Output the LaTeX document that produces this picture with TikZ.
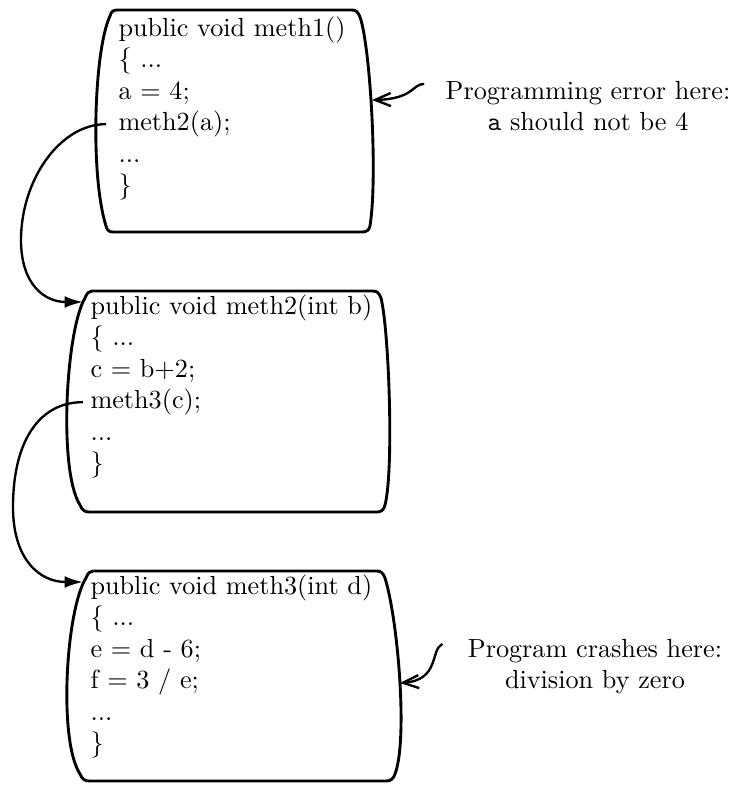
\documentclass[tikz,border=0pt]{standalone}
\usetikzlibrary{arrows.meta,calc}
\begin{document}
\begin{tikzpicture}[x=0.3817pt,y=-0.3817pt,
  boxline/.style={line width=1.1pt, line join=round},
  codeline/.style={anchor=base west, inner sep=0pt},
  note/.style={anchor=base, inner sep=0pt},
  callarrow/.style={line width=0.9pt, -{Latex[length=7pt,width=4.5pt]}},
  notearrow/.style={line width=0.9pt, -{Straight Barb[length=6pt,width=5pt]}}]
\useasboundingbox (0,0) rectangle (742,793);

% ---------- box 1 ----------
\draw[boxline] (117,10) -- (352,10)
  .. controls (356,10) and (358,12) .. (360,17)
  .. controls (370,45) and (378,175) .. (370,226)
  .. controls (369,230) and (367,232) .. (362,232)
  -- (113,232)
  .. controls (109,232) and (107,230) .. (106,226)
  .. controls (90,175) and (94,50) .. (110,16)
  .. controls (111,12) and (113,10) .. (117,10) -- cycle;
\node[codeline] (m1a) at (118,36.5) {public void meth1()};
\node[codeline] (m1b) at (118,67.9) {\{ ...};
\node[codeline] (m1c) at (118,99.3) {a = 4;};
\node[codeline] (m1d) at (118,130.7) {meth2(a);};
\node[codeline] (m1e) at (118,162.1) {...};
\node[codeline] (m1f) at (118,193.5) {\}};

% ---------- box 2 ----------
\draw[boxline] (92,291) -- (373,291)
  .. controls (377,291) and (379,293) .. (381,298)
  .. controls (389,330) and (394,470) .. (385,505)
  .. controls (384,510) and (381,512) .. (377,512)
  -- (89,512)
  .. controls (85,512) and (82,510) .. (80,505)
  .. controls (58,470) and (66,330) .. (85,298)
  .. controls (87,293) and (89,291) .. (92,291) -- cycle;
\node[codeline] (m2a) at (90,314.5) {public void meth2(int b)};
\node[codeline] (m2b) at (90,345.9) {\{ ...};
\node[codeline] (m2c) at (90,377.3) {c = b+2;};
\node[codeline] (m2d) at (90,408.7) {meth3(c);};
\node[codeline] (m2e) at (90,440.1) {...};
\node[codeline] (m2f) at (90,471.5) {\}};

% ---------- box 3 ----------
\draw[boxline] (93,571) -- (377,571)
  .. controls (381,571) and (383,573) .. (385,578)
  .. controls (398,620) and (408,740) .. (395,774)
  .. controls (393,779) and (391,781) .. (386,781)
  -- (89,781)
  .. controls (85,781) and (82,779) .. (80,774)
  .. controls (58,740) and (66,610) .. (86,578)
  .. controls (88,573) and (90,571) .. (93,571) -- cycle;
\node[codeline] (m3a) at (90,594.5) {public void meth3(int d)};
\node[codeline] (m3b) at (90,625.9) {\{ ...};
\node[codeline] (m3c) at (90,657.3) {e = d - 6;};
\node[codeline] (m3d) at (90,688.7) {f = 3 / e;};
\node[codeline] (m3e) at (90,720.1) {...};
\node[codeline] (m3f) at (90,751.5) {\}};

% ---------- attachment points on the boxes ----------
\coordinate (b1side) at (372,100);
\coordinate (b2in) at (83,302);
\coordinate (b3in) at (83,582);
\coordinate (b3side) at (400,683);

% ---------- notes ----------
\node[note] (n1a) at (588,99.3) {Programming error here:};
\node[note] (n1b) at (588,130.7) {\texttt{a} should not be 4};
\node[note] (n2a) at (595,657.3) {Program crashes here:};
\node[note] (n2b) at (595,688.7) {division by zero};

% ---------- call connectors ----------
\draw[callarrow] ($(m1d.west)+(-12,0)$) .. controls (60,124) and (21,180) .. (21,240)
  .. controls (21,285) and (45,302) .. (b2in);
\draw[callarrow] ($(m2d.west)+(-7,0)$) .. controls (40,402) and (13,440) .. (13,507)
  .. controls (13,560) and (40,582) .. (b3in);

% ---------- note arrows ----------
\draw[notearrow] ($(n1a.west)+(-21,-9)$) .. controls (412,84) and (414,99) .. (b1side);
\draw[notearrow] ($(n2a.west)+(-25,-7)$) .. controls (430,650) and (440,680) .. (b3side);
\end{tikzpicture}
\end{document}
